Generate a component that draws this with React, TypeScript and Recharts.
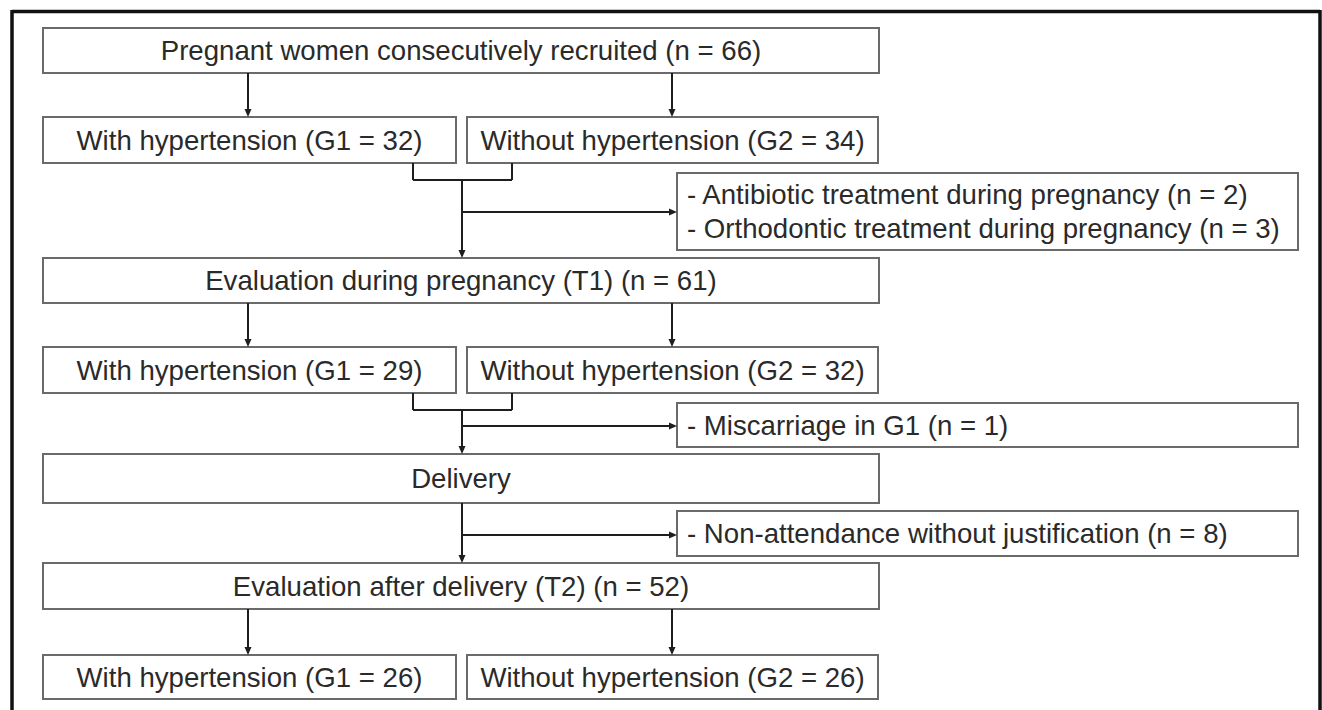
import React from "react";
import {
  ScatterChart,
  Scatter,
  XAxis,
  YAxis,
  ReferenceArea,
  ReferenceLine,
} from "recharts";

// flow content
const flowSteps = [
  "Pregnant women consecutively recruited (n = 66)",
  "Evaluation during pregnancy (T1) (n = 61)",
  "Delivery",
  "Evaluation after delivery (T2) (n = 52)",
];
const withHypertension = [32, 29, 26];
const withoutHypertension = [34, 32, 26];
const exclusions = [
  [
    "Antibiotic treatment during pregnancy (n = 2)",
    "Orthodontic treatment during pregnancy (n = 3)",
  ],
  ["Miscarriage in G1 (n = 1)"],
  ["Non-attendance without justification (n = 8)"],
];
// which flow step each group row hangs under
const groupParentStep = [0, 1, 3];

// layout, in chart units (axes span the whole picture)
const W = 1322;
const H = 710;
const mainX = [43, 879];
const g1X = [43, 456];
const g2X = [467, 878];
const exclX = [677, 1298];
const stepY = [
  [28, 73],
  [258, 303],
  [454, 503],
  [563, 609],
];
const groupY = [
  [117, 163],
  [347, 393],
  [655, 699],
];
const exclY = [
  [173, 250],
  [403, 447],
  [511, 556],
];
const columnX = [248, 672];
const stemX = 462;
const bracketX = [413, 512];
const bracketY = [180, 410];
const exclArrowY = [212, 426, 535];

const FONT = 27.6;
const FONT_FAMILY = "'Liberation Sans', Arial, sans-serif";
const TEXT = "#2a2a2a";
const BOX_STROKE = "#6a6a6a";
const LINE = "#1e1e1e";

function boxShape(lines: string[], align: "center" | "left") {
  return (p: any) => {
    const { x, y, width, height } = p;
    const mid = y + height / 2;
    const lh = 34;
    return (
      <g>
        <rect
          x={x}
          y={y}
          width={width}
          height={height}
          fill="#fff"
          stroke={BOX_STROKE}
          strokeWidth={2}
        />
        {lines.map((t, i) => (
          <text
            key={i}
            x={align === "center" ? x + width / 2 : x + 10}
            y={mid + (i - (lines.length - 1) / 2) * lh + FONT * 0.36}
            textAnchor={align === "center" ? "middle" : "start"}
            fontSize={FONT}
            fontFamily={FONT_FAMILY}
            fill={TEXT}
          >
            {t}
          </text>
        ))}
      </g>
    );
  };
}

function ArrowHead(props: any) {
  const { cx, cy, payload } = props;
  if (cx == null || cy == null) return null;
  const len = 8;
  const half = 3.5;
  const pts =
    payload.dir === "down"
      ? `${cx},${cy} ${cx - half},${cy - len} ${cx + half},${cy - len}`
      : `${cx},${cy} ${cx - len},${cy - half} ${cx - len},${cy + half}`;
  return <polygon points={pts} fill={LINE} />;
}

type Seg = [number, number, number, number];

export default function App() {
  const boxes: { x: number[]; y: number[]; lines: string[]; align: "center" | "left" }[] = [];
  flowSteps.forEach((s, i) => boxes.push({ x: mainX, y: stepY[i], lines: [s], align: "center" }));
  withHypertension.forEach((n, i) =>
    boxes.push({ x: g1X, y: groupY[i], lines: [`With hypertension (G1 = ${n})`], align: "center" })
  );
  withoutHypertension.forEach((n, i) =>
    boxes.push({ x: g2X, y: groupY[i], lines: [`Without hypertension (G2 = ${n})`], align: "center" })
  );
  exclusions.forEach((ls, i) =>
    boxes.push({ x: exclX, y: exclY[i], lines: ls.map((l) => `- ${l}`), align: "left" })
  );

  const segs: Seg[] = [];
  const tips: { x: number; y: number; dir: string }[] = [];

  // step -> two group boxes
  groupParentStep.forEach((s, g) => {
    columnX.forEach((cx) => {
      segs.push([cx, stepY[s][1], cx, groupY[g][0] - 4]);
      tips.push({ x: cx, y: groupY[g][0], dir: "down" });
    });
  });

  // group pair -> bracket -> next step
  bracketY.forEach((by, g) => {
    const top = groupY[g][1];
    segs.push([bracketX[0], top, bracketX[0], by]);
    segs.push([bracketX[0], by, bracketX[1], by]);
    segs.push([bracketX[1], by, bracketX[1], top]);
    const next = stepY[g + 1][0];
    segs.push([stemX, by, stemX, next - 4]);
    tips.push({ x: stemX, y: next, dir: "down" });
  });

  // delivery -> evaluation after delivery
  segs.push([stemX, stepY[2][1], stemX, stepY[3][0] - 4]);
  tips.push({ x: stemX, y: stepY[3][0], dir: "down" });

  // exclusion branches
  exclArrowY.forEach((ay) => {
    segs.push([stemX, ay, exclX[0] - 4, ay]);
    tips.push({ x: exclX[0], y: ay, dir: "right" });
  });

  return (
    <div style={{ position: "absolute", left: 0, top: 0, width: W, height: H, background: "#fff" }}>
      <ScatterChart width={W} height={H} margin={{ top: 0, right: 0, bottom: 0, left: 0 }}>
        <XAxis type="number" dataKey="x" domain={[0, W]} hide allowDataOverflow />
        <YAxis type="number" dataKey="y" domain={[0, H]} reversed hide allowDataOverflow />

        {/* outer frame (bottom edge runs off the picture) */}
        <ReferenceLine segment={[{ x: 12, y: 11.5 }, { x: 1320, y: 11.5 }]} stroke="#111" strokeWidth={3.5} />
        <ReferenceLine segment={[{ x: 12, y: 10 }, { x: 12, y: H }]} stroke="#111" strokeWidth={3.5} />
        <ReferenceLine segment={[{ x: 1320, y: 10 }, { x: 1320, y: H }]} stroke="#111" strokeWidth={3.5} />

        {segs.map((s, i) => (
          <ReferenceLine
            key={`s${i}`}
            segment={[{ x: s[0], y: s[1] }, { x: s[2], y: s[3] }]}
            stroke={LINE}
            strokeWidth={2}
          />
        ))}

        {boxes.map((b, i) => (
          <ReferenceArea
            key={`b${i}`}
            x1={b.x[0]}
            x2={b.x[1]}
            y1={b.y[0]}
            y2={b.y[1]}
            shape={boxShape(b.lines, b.align)}
          />
        ))}

        <Scatter data={tips} shape={<ArrowHead />} isAnimationActive={false} />
      </ScatterChart>
    </div>
  );
}
